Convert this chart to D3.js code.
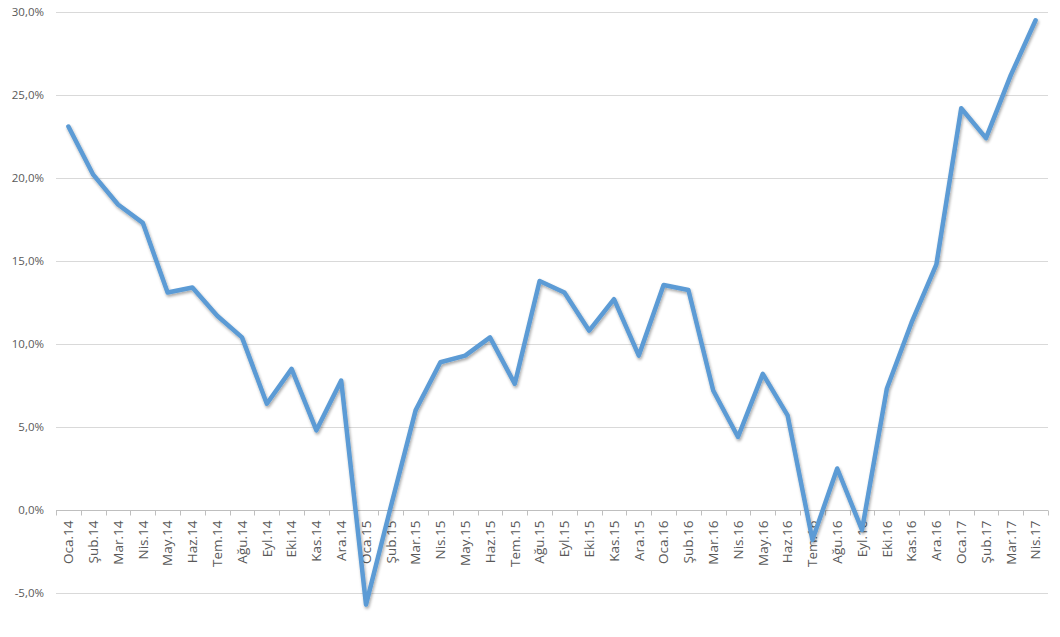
<!DOCTYPE html>
<html><head><meta charset="utf-8">
<script src="https://cdn.jsdelivr.net/npm/d3@7"></script>
<style>body{margin:0;background:#fff;} svg{display:block;}</style>
</head><body>
<svg id="chart" width="1060" height="637"></svg>
<script>
const categories = ["Oca.14","Şub.14","Mar.14","Nis.14","May.14","Haz.14","Tem.14","Ağu.14","Eyl.14","Eki.14","Kas.14","Ara.14",
"Oca.15","Şub.15","Mar.15","Nis.15","May.15","Haz.15","Tem.15","Ağu.15","Eyl.15","Eki.15","Kas.15","Ara.15",
"Oca.16","Şub.16","Mar.16","Nis.16","May.16","Haz.16","Tem.16","Ağu.16","Eyl.16","Eki.16","Kas.16","Ara.16",
"Oca.17","Şub.17","Mar.17","Nis.17"];
const values = [23.1,20.2,18.4,17.3,13.1,13.4,11.7,10.4,6.4,8.5,4.8,7.8,
-5.7,0.2,6.0,8.9,9.3,10.4,7.6,13.8,13.1,10.8,12.7,9.3,
13.55,13.25,7.2,4.4,8.2,5.7,-1.8,2.5,-1.2,7.3,11.3,14.8,
24.2,22.4,26.2,29.5];
const yTicks = [-5,0,5,10,15,20,25,30];

(function(){
const svg = d3.select("#chart");
const mLeft = 56, mRight = 1048, mTop = 12, mBottom = 593;
const x = d3.scaleBand().domain(categories).range([mLeft, mRight]);
const y = d3.scaleLinear().domain([-5, 30]).range([mBottom, mTop]);
const fmt = v => v.toFixed(1).replace(".", ",") + "%";
const font = "'Open Sans', 'Liberation Sans', sans-serif";

svg.append("g").selectAll("line").data(yTicks.filter(t => t !== 0)).join("line")
  .attr("x1", mLeft).attr("x2", mRight)
  .attr("y1", d => Math.round(y(d)) + 0.5).attr("y2", d => Math.round(y(d)) + 0.5)
  .attr("stroke", "#d9d9d9").attr("stroke-width", 1);

svg.append("g").selectAll("text").data(yTicks).join("text")
  .attr("x", 44).attr("y", d => y(d)).attr("dy", "0.35em")
  .attr("text-anchor", "end").attr("font-family", font).attr("font-size", 11.5)
  .attr("fill", "#595959").text(fmt);

const xAxisG = svg.append("g").attr("transform", `translate(0,${Math.round(y(0)) + 0.5})`);
xAxisG.append("line").attr("x1", mLeft).attr("x2", mRight).attr("stroke", "#bfbfbf").attr("stroke-width", 1);
const bounds = categories.map(c => x(c)).concat([mRight]);
xAxisG.selectAll("line.tick").data(bounds).join("line").attr("class", "tick")
  .attr("x1", d => Math.round(d) + 0.5).attr("x2", d => Math.round(d) + 0.5)
  .attr("y1", 0).attr("y2", 5).attr("stroke", "#bfbfbf");
xAxisG.selectAll("text").data(categories).join("text")
  .attr("transform", d => `translate(${x(d) + x.bandwidth() / 2},10) rotate(-90)`)
  .attr("text-anchor", "end").attr("dy", "0.35em")
  .attr("font-family", font).attr("font-size", 13.5).attr("fill", "#595959")
  .text(d => d);

const defs = svg.append("defs");
const f = defs.append("filter").attr("id", "sh").attr("x", "-10%").attr("y", "-10%").attr("width", "120%").attr("height", "120%");
f.append("feGaussianBlur").attr("in", "SourceAlpha").attr("stdDeviation", 1.5).attr("result", "b");
f.append("feOffset").attr("in", "b").attr("dx", 1).attr("dy", 1.5).attr("result", "o");
f.append("feComponentTransfer").attr("in", "o").attr("result", "o2").append("feFuncA").attr("type", "linear").attr("slope", 0.35);
const m = f.append("feMerge"); m.append("feMergeNode").attr("in", "o2"); m.append("feMergeNode").attr("in", "SourceGraphic");

const line = d3.line().x((d, i) => x(categories[i]) + x.bandwidth() / 2).y(d => y(d));
svg.append("path").datum(values).attr("d", line)
  .attr("fill", "none").attr("stroke", "#5b9bd5").attr("stroke-width", 4.5)
  .attr("stroke-linejoin", "round").attr("stroke-linecap", "round")
  .attr("filter", "url(#sh)");
})();
</script>
</body></html>
